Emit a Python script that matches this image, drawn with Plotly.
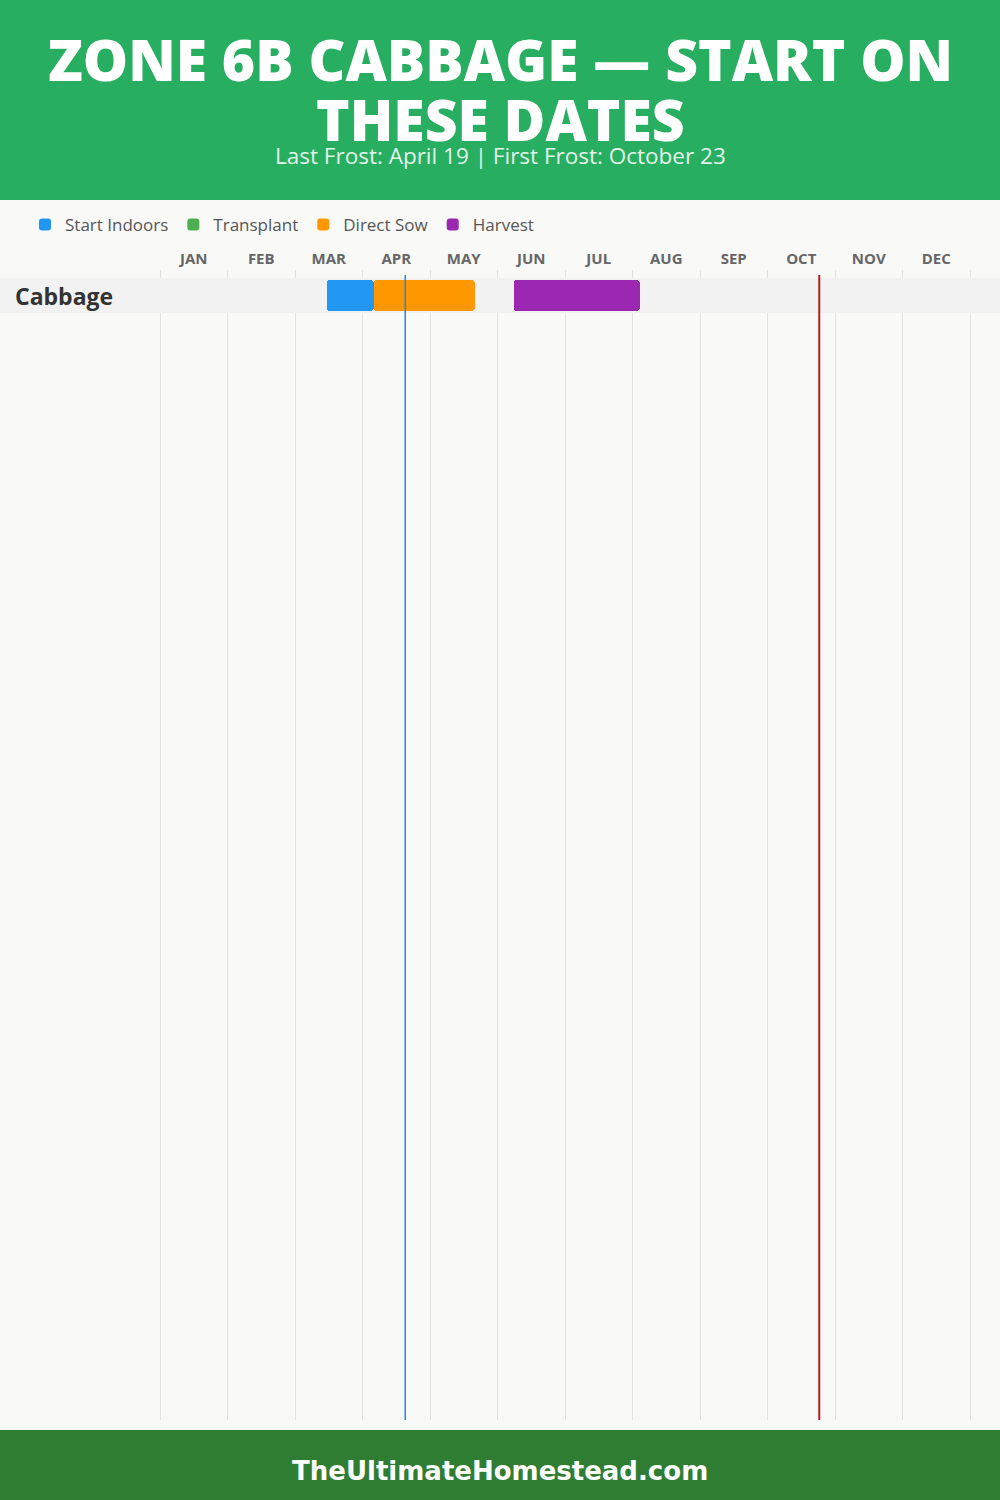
import plotly.graph_objects as go

# ---- data ----
MONTHS = ["JAN", "FEB", "MAR", "APR", "MAY", "JUN", "JUL", "AUG", "SEP", "OCT", "NOV", "DEC"]
CROP = "Cabbage"
STAGES = ["Start Indoors", "Transplant", "Direct Sow", "Harvest"]
STAGE_COLORS = ["#2196F3", "#4CAF50", "#FF9800", "#9C27B0"]
STAGE_STARTS = [(3, 14), None, (4, 5), (6, 7)]   # (month, day)
STAGE_ENDS = [(4, 5), None, (5, 20), (8, 3)]
LAST_FROST = (4, 19)
FIRST_FROST = (10, 23)
TITLE_LINES = ["ZONE 6B CABBAGE — START ON", "THESE DATES"]
SUBTITLE = "Last Frost: April 19 | First Frost: October 23"
FOOTER = "TheUltimateHomestead.com"


def mpos(md):
    """month/day -> position on a 0..12 month scale"""
    return (md[0] - 1) + md[1] / 30.0


W, H = 1000, 1500
def py(px):  # pixel-from-top -> paper y
    return 1 - px / H

EPS = 0.02
PX_PER_MONTH = 67.5
x_dom = [0.16 - EPS * PX_PER_MONTH / W, 0.97 + EPS * PX_PER_MONTH / W]

fig = go.Figure()

for name, color, s, e in zip(STAGES, STAGE_COLORS, STAGE_STARTS, STAGE_ENDS):
    if s is None:
        fig.add_trace(go.Bar(y=[CROP], x=[None], base=[None], orientation="h",
                             name=name, marker=dict(color=color, line=dict(width=0)),
                             width=0.886, showlegend=True, hoverinfo="skip"))
    else:
        fig.add_trace(go.Bar(y=[CROP], x=[mpos(e) - mpos(s)], base=[mpos(s)], orientation="h",
                             name=name, marker=dict(color=color, line=dict(width=0)),
                             width=0.886, showlegend=True))

shapes = [
    # header and footer
    dict(type="rect", xref="paper", yref="paper", x0=0, x1=1, y0=py(200), y1=1,
         fillcolor="#27ae60", line=dict(width=0), layer="below"),
    dict(type="rect", xref="paper", yref="paper", x0=0, x1=1, y0=0, y1=py(1430),
         fillcolor="#2e7d32", line=dict(width=0), layer="below"),
    # row band
    dict(type="rect", xref="paper", yref="y", x0=0, x1=1, y0=-0.5, y1=0.5,
         fillcolor="#f2f2f2", line=dict(width=0), layer="below"),
    dict(type="rect", xref="x", yref="y", x0=-EPS, x1=12 + EPS, y0=-0.5, y1=0.5,
         fillcolor="#f2f2f2", line=dict(width=0), layer="between"),
    # frost lines
    dict(type="line", xref="x", yref="paper", x0=mpos(LAST_FROST), x1=mpos(LAST_FROST),
         y0=py(1420), y1=py(275), line=dict(color="#1E88E5", width=1.5), layer="above"),
    dict(type="line", xref="x", yref="paper", x0=mpos(FIRST_FROST), x1=mpos(FIRST_FROST),
         y0=py(1420), y1=py(275), line=dict(color="#B71C1C", width=2), layer="above"),
]

annotations = [
    dict(text=TITLE_LINES[0], xref="paper", yref="paper", x=0.5, y=py(59), xanchor="center", yanchor="middle",
         showarrow=False, font=dict(family="Open Sans", size=57, color="white", weight=800)),
    dict(text=TITLE_LINES[1], xref="paper", yref="paper", x=0.5, y=py(119), xanchor="center", yanchor="middle",
         showarrow=False, font=dict(family="Open Sans", size=57, color="white", weight=800)),
    dict(text=SUBTITLE, xref="paper", yref="paper", x=0.5, y=py(156), xanchor="center", yanchor="middle",
         showarrow=False, font=dict(family="Open Sans", size=22.5, color="#e3f4e9")),
    dict(text=CROP, xref="paper", yref="y", x=0.013, y=CROP, xanchor="left", yanchor="middle",
         showarrow=False, font=dict(family="Open Sans", size=23, color="#333333", weight=700)),
    dict(text=FOOTER, xref="paper", yref="paper", x=0.5, y=py(1471), xanchor="center", yanchor="middle",
         showarrow=False, font=dict(family="DejaVu Sans", size=26, color="white", weight=700)),
]

fig.update_layout(
    width=W, height=H, autosize=False,
    margin=dict(l=0, r=0, t=0, b=0, pad=0),
    paper_bgcolor="#f9f9f8", plot_bgcolor="#f9f9f8",
    barmode="overlay", barcornerradius=3, bargap=0,
    shapes=shapes, annotations=annotations,
    showlegend=True,
    legend=dict(orientation="h", x=0.025, y=py(225), xanchor="left", yanchor="middle",
                font=dict(family="Open Sans", size=17, color="#555555"),
                bgcolor="rgba(0,0,0,0)", traceorder="normal"),
    xaxis=dict(domain=x_dom, range=[-EPS, 12 + EPS], side="top",
               tickmode="array", tickvals=[i + 0.5 for i in range(12)], ticktext=MONTHS,
               ticks="", showgrid=False, zeroline=False, showline=False, fixedrange=True,
               ticklabelstandoff=2,
               tickfont=dict(family="Open Sans", size=15, color="#666666", weight=700),
               minor=dict(tickmode="array", tickvals=list(range(13)), showgrid=True,
                          gridcolor="#e2e2e2", gridwidth=1, ticks="")),
    yaxis=dict(domain=[py(1420), py(270)], type="category", categoryarray=[CROP],
               range=[32.13, -0.73], autorange=False,
               showticklabels=False, showgrid=False, zeroline=False, showline=False, fixedrange=True),
)

fig.write_html("out.html", config={"displayModeBar": False},
               post_script="document.body.style.margin='0';document.body.style.overflow='hidden';")
